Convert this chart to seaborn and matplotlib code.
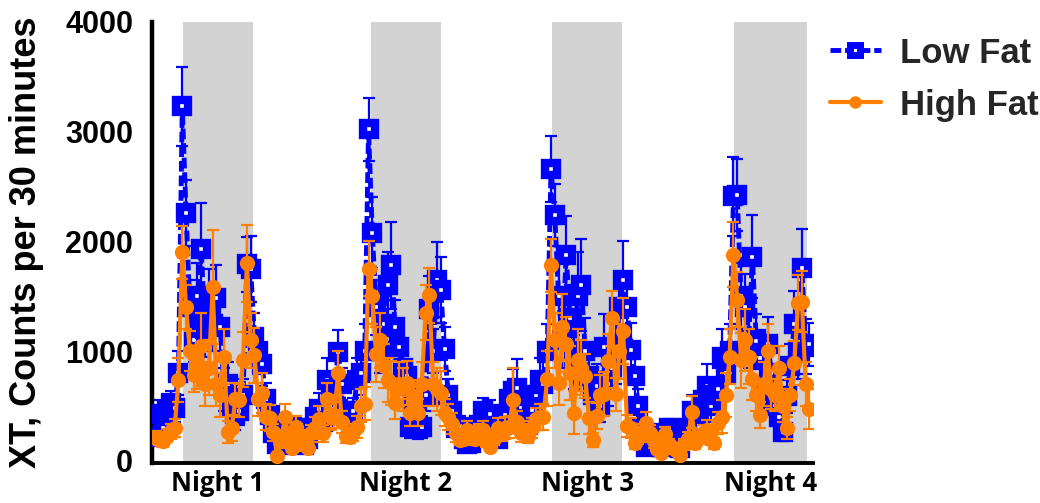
"""
Actividad XT (counts por 30 min) en ratones con dieta baja y alta en grasa,
cuatro noches seguidas. Las bandas grises marcan los periodos de oscuridad.
"""

import matplotlib

matplotlib.use("Agg")

import matplotlib.pyplot as plt
import numpy as np
import seaborn as sns
from matplotlib.lines import Line2D

# Medias por bin de 30 min (0..172)
low_fat = [
    220, 430, 300, 460, 520, 480, 800, 3230, 2260, 1400,
    1100, 1500, 1930, 1200, 1450, 1250, 1480, 1220, 650, 700,
    500, 430, 450, 600, 1790, 1750, 1130, 990, 880, 560,
    420, 250, 150, 200, 140, 280, 200, 300, 180, 140,
    200, 300, 400, 470, 350, 740, 600, 650, 990, 700,
    420, 380, 450, 740, 800, 1000, 3020, 2080, 1400, 1000,
    1250, 1600, 1780, 1220, 1040, 850, 770, 310, 500, 300,
    310, 600, 1380, 1000, 1650, 1560, 1020, 600, 450, 300,
    310, 200, 150, 160, 250, 330, 450, 300, 430, 260,
    200, 330, 420, 560, 640, 660, 480, 380, 330, 460,
    600, 740, 700, 1000, 2660, 2240, 1500, 1100, 1880, 1300,
    900, 1500, 1600, 1000, 770, 600, 680, 500, 1040, 700,
    850, 1000, 1400, 1650, 1400, 1010, 770, 500, 300, 130,
    200, 150, 250, 130, 220, 300, 200, 150, 120, 250,
    300, 450, 350, 300, 550, 680, 500, 600, 650, 950,
    800, 1000, 2410, 2420, 1500, 1400, 1100, 1860, 1090, 940,
    670, 1060, 800, 500, 400, 260, 590, 860, 1250, 1000,
    1760, 1040, 1060,
]
high_fat = [
    210, 190, 180, 230, 270, 300, 740, 1900, 1400, 1000,
    780, 850, 1050, 700, 850, 1580, 700, 600, 950, 260,
    300, 560, 550, 920, 1800, 1100, 960, 560, 620, 400,
    390, 260, 40, 180, 400, 220, 120, 310, 150, 220,
    120, 250, 300, 380, 250, 560, 400, 420, 800, 350,
    230, 220, 260, 310, 500, 520, 1750, 1500, 970, 1100,
    860, 740, 710, 530, 700, 650, 710, 440, 590, 440,
    700, 1350, 1510, 700, 650, 620, 440, 400, 340, 250,
    190, 200, 280, 250, 200, 260, 280, 180, 130, 200,
    300, 250, 300, 310, 550, 350, 250, 280, 230, 300,
    380, 400, 400, 750, 1780, 1100, 710, 1220, 1060, 800,
    440, 920, 850, 770, 390, 190, 410, 600, 605, 910,
    1300, 605, 1000, 1180, 320, 300, 160, 220, 260, 345,
    250, 180, 110, 70, 240, 150, 120, 100, 55, 150,
    200, 445, 160, 220, 250, 280, 200, 160, 345, 400,
    600, 950, 1880, 1470, 915, 1100, 950, 750, 600, 420,
    700, 1000, 650, 600, 850, 500, 300, 600, 890, 1440,
    1450, 700, 470,
]

# SEM de cada bin
low_fat_sem = [
    80, 120, 100, 150, 120, 130, 200, 360, 300, 250,
    200, 300, 420, 250, 300, 250, 300, 280, 200, 200,
    150, 150, 120, 150, 250, 300, 220, 200, 200, 150,
    120, 100, 60, 80, 60, 100, 80, 100, 60, 60,
    80, 100, 120, 150, 100, 200, 150, 150, 200, 150,
    120, 100, 120, 200, 200, 250, 290, 320, 250, 200,
    250, 300, 400, 250, 200, 200, 150, 100, 150, 100,
    100, 150, 300, 200, 340, 300, 200, 150, 120, 80,
    100, 60, 50, 60, 80, 100, 120, 80, 120, 80,
    60, 100, 120, 150, 200, 270, 150, 100, 100, 150,
    150, 200, 200, 250, 300, 280, 300, 250, 350, 300,
    250, 400, 420, 300, 200, 150, 200, 150, 300, 200,
    250, 300, 300, 350, 300, 250, 200, 150, 100, 50,
    60, 50, 80, 50, 60, 80, 60, 50, 40, 80,
    100, 150, 100, 80, 150, 200, 150, 150, 200, 250,
    200, 250, 360, 330, 300, 300, 250, 380, 250, 250,
    200, 250, 200, 150, 100, 80, 150, 200, 300, 250,
    350, 250, 200,
]
high_fat_sem = [
    60, 50, 50, 60, 70, 80, 200, 240, 200, 180,
    150, 200, 300, 200, 250, 520, 200, 200, 250, 100,
    120, 150, 150, 250, 350, 250, 250, 150, 180, 120,
    120, 80, 30, 60, 120, 60, 40, 100, 50, 60,
    40, 80, 100, 120, 80, 150, 120, 120, 200, 100,
    70, 60, 80, 100, 150, 150, 250, 250, 250, 250,
    200, 200, 200, 150, 200, 200, 200, 120, 150, 120,
    200, 250, 250, 200, 200, 200, 120, 120, 100, 80,
    50, 50, 80, 70, 60, 80, 80, 50, 40, 60,
    90, 70, 100, 100, 300, 100, 80, 80, 70, 90,
    100, 120, 120, 250, 240, 250, 200, 300, 250, 250,
    200, 280, 250, 200, 150, 60, 120, 180, 200, 250,
    250, 150, 250, 300, 100, 90, 50, 70, 80, 100,
    80, 60, 40, 30, 70, 50, 40, 30, 20, 50,
    60, 150, 50, 70, 80, 90, 60, 50, 100, 150,
    200, 250, 300, 250, 250, 280, 250, 200, 150, 120,
    200, 250, 180, 150, 200, 150, 100, 150, 200, 250,
    280, 200, 180,
]

# Periodos de oscuridad, en bins de 30 min
night_start = [7.2, 56.6, 104.3, 152.2]
night_end = [25.6, 75.0, 122.7, 171.4]
night_labels = ["Night 1", "Night 2", "Night 3", "Night 4"]

BLUE = "#0000FF"
ORANGE = "#FF8000"

BLUE_STYLE = dict(color=BLUE, lw=3.5, linestyle=(0, (2.2, 0.8)), marker="s",
                  markersize=8.5, markerfacecolor="white",
                  markeredgecolor=BLUE, markeredgewidth=6)
ORANGE_STYLE = dict(color=ORANGE, lw=3, marker="o", markersize=11,
                    markerfacecolor=ORANGE, markeredgecolor=ORANGE,
                    markeredgewidth=0)


def main():
    sns.set_theme(style="white")
    plt.rcParams["font.family"] = ["Liberation Sans", "DejaVu Sans"]

    t = np.arange(len(low_fat))

    fig = plt.figure(figsize=(10.4, 5.03), dpi=100)
    ax = fig.add_axes([0.146, 0.0795, 0.636, 0.877])

    for s, e in zip(night_start, night_end):
        ax.axvspan(s, e, color="#D3D3D3", lw=0, zorder=0)

    ax.errorbar(t, low_fat, yerr=low_fat_sem, fmt="none", ecolor=BLUE,
                elinewidth=1.6, capsize=4, capthick=1.6, zorder=2)
    sns.lineplot(x=t, y=low_fat, ax=ax, errorbar=None, zorder=3, **BLUE_STYLE)

    ax.errorbar(t, high_fat, yerr=high_fat_sem, fmt="none", ecolor=ORANGE,
                elinewidth=1.6, capsize=4, capthick=1.6, zorder=4)
    sns.lineplot(x=t, y=high_fat, ax=ax, errorbar=None, zorder=5,
                 **ORANGE_STYLE)

    ax.set_xlim(-1, 173)
    ax.set_ylim(-20, 4000)

    for side in ["top", "right"]:
        ax.spines[side].set_visible(False)
    ax.spines["left"].set_linewidth(3.2)
    ax.spines["bottom"].set_linewidth(2.8)
    for side in ["left", "bottom"]:
        ax.spines[side].set_color("black")

    ax.set_yticks([0, 1000, 2000, 3000, 4000])
    ax.tick_params(axis="y", direction="out", length=9.5, width=2.8,
                   pad=4, labelsize=22, colors="black")
    for lab in ax.get_yticklabels():
        lab.set_fontweight("bold")

    centers = [(s + e) / 2 for s, e in zip(night_start, night_end)]
    ax.set_xticks(centers)
    ax.set_xticklabels(night_labels, fontsize=18.5, fontweight="bold",
                       family=["Open Sans", "DejaVu Sans"])
    ax.tick_params(axis="x", length=0, pad=5, colors="black")

    ax.set_xlabel("")
    ax.set_ylabel("XT, Counts per 30 minutes", fontsize=26,
                  fontweight="bold", color="black")
    ax.yaxis.set_label_coords(-0.163, 0.5)

    leg_blue = dict(BLUE_STYLE, markersize=6.5, markeredgewidth=5)
    leg_orange = dict(ORANGE_STYLE, markersize=9)
    handles = [Line2D([], [], **leg_blue), Line2D([], [], **leg_orange)]
    fig.legend(handles, ["Low Fat", "High Fat"], loc="upper left",
               bbox_to_anchor=(0.785, 0.955), frameon=False,
               prop={"size": 25, "weight": "bold"}, handlelength=1.45,
               handletextpad=0.55, labelspacing=0.55, borderaxespad=0)

    fig.savefig("out.png", dpi=100)
    plt.close(fig)


if __name__ == "__main__":
    main()
